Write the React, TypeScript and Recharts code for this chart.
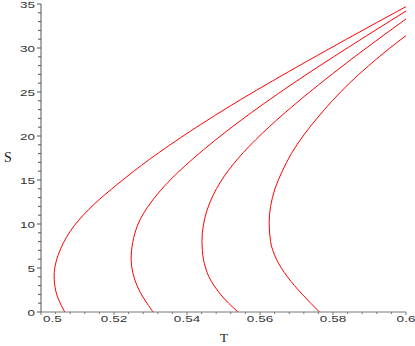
import React from 'react';
import { LineChart, Line, XAxis, YAxis } from 'recharts';

// four S(T) curves, each read from bottom (S=0) upward along the curve
const curve1S = [0, 2.3, 4.1, 7.2, 9.8, 12.3, 14.5, 17.4, 18.75, 23.1, 27.3, 31.0, 34.7];
const curve1T = [0.5065, 0.5041, 0.5036, 0.5054, 0.5091, 0.5147, 0.5209, 0.5299, 0.5345, 0.5506, 0.5678, 0.5837, 0.6];

const curve2S = [0, 3, 6, 9.8, 12.5, 14.3, 17.4, 21.6, 25.9, 30.1, 34.2];
const curve2T = [0.5307, 0.5263, 0.5247, 0.5264, 0.5302, 0.5338, 0.5416, 0.5542, 0.5688, 0.5843, 0.6];

const curve3S = [0, 1, 2, 3, 4, 5, 6, 7, 8, 11.7, 14.8, 17.4, 20.3, 23.3, 28.3, 33.3];
const curve3T = [0.554, 0.5514, 0.5492, 0.5474, 0.546, 0.5451, 0.5445, 0.5442, 0.5441, 0.5456, 0.5492, 0.5539, 0.5606, 0.5687, 0.5837, 0.6];

const curve4S = [0, 2, 4, 6, 8, 10.2, 12, 14, 16, 18, 20, 22, 24, 26, 28, 30, 31.4];
const curve4T = [0.5763, 0.5716, 0.5675, 0.5645, 0.5629, 0.5625, 0.5629, 0.5641, 0.5661, 0.5686, 0.5718, 0.5756, 0.5798, 0.5845, 0.5898, 0.5956, 0.6];

const xMajor = [0.5, 0.52, 0.54, 0.56, 0.58, 0.6];
const xLabels = ['0.5', '0.52', '0.54', '0.56', '0.58', '0.6'];
const yMajor = [0, 5, 10, 15, 20, 25, 30, 35];
const yLabels = ['0', '5', '10', '15', '20', '25', '30', '35'];

// minor ticks: 5 per major step
const xTicks = Array.from({ length: 26 }, (_, i) => Math.round((0.5 + i * 0.004) * 1000) / 1000);
const yTicks = Array.from({ length: 36 }, (_, i) => i);

const toPoints = (t: number[], s: number[]) => t.map((v, i) => ({ t: v, s: s[i] }));
const curves = [
  toPoints(curve1T, curve1S),
  toPoints(curve2T, curve2S),
  toPoints(curve3T, curve3S),
  toPoints(curve4T, curve4S),
];

const tickFont = { fontFamily: 'Liberation Sans, Arial, sans-serif', fontSize: 9, fill: '#333' };

const XTick = (props: any) => {
  const { x, y, payload } = props;
  const idx = xMajor.findIndex(m => Math.abs(m - payload.value) < 1e-6);
  const major = idx >= 0;
  return (
    <g>
      <line x1={x} x2={x} y1={y} y2={y + (major ? 3 : 2)} stroke="#777" />
      {major && (
        <text
          transform={`translate(${idx === 0 ? x + 2 : x},${y + 10}) scale(1.5,1)`}
          textAnchor={idx === 0 ? 'start' : 'middle'}
          {...tickFont}
        >
          {xLabels[idx]}
        </text>
      )}
    </g>
  );
};

const YTick = (props: any) => {
  const { x, y, payload } = props;
  const idx = yMajor.indexOf(payload.value);
  const major = idx >= 0;
  return (
    <g>
      <line x1={x - (major ? 4 : 3)} x2={x} y1={y} y2={y} stroke="#555" />
      {major && (
        <text transform={`translate(${x - 6},${y + 3.5}) scale(1.5,1)`} textAnchor="end" {...tickFont}>
          {yLabels[idx]}
        </text>
      )}
    </g>
  );
};

export default function App() {
  return (
    <div style={{ position: 'fixed', left: 0, top: 0, background: '#fff' }}>
      <LineChart width={415} height={346} margin={{ top: 4, right: 9, left: 0, bottom: 0 }}>
        <XAxis
          dataKey="t"
          type="number"
          domain={[0.5, 0.6]}
          ticks={xTicks}
          interval={0}
          tick={<XTick />}
          tickSize={0}
          tickMargin={0}
          tickLine={false}
          stroke="#777"
          height={34}
          allowDataOverflow
        />
        <YAxis
          dataKey="s"
          type="number"
          domain={[0, 35]}
          ticks={yTicks}
          interval={0}
          tick={<YTick />}
          tickSize={0}
          tickMargin={0}
          tickLine={false}
          stroke="#555"
          width={41}
          allowDataOverflow
        />
        {curves.map((c, i) => (
          // S rises along every curve, so T is drawn as a smooth function of S
          <Line
            key={i}
            data={c}
            dataKey="s"
            type="monotoneY"
            stroke="#f00"
            strokeWidth={1}
            dot={false}
            activeDot={false}
            isAnimationActive={false}
          />
        ))}
        <text x={8} y={162} textAnchor="middle" fontFamily="Liberation Serif, Times New Roman, serif" fontSize={14} fill="#222">
          S
        </text>
        <text x={224} y={342} textAnchor="middle" fontFamily="Liberation Serif, Times New Roman, serif" fontSize={13} fill="#222">
          T
        </text>
      </LineChart>
    </div>
  );
}
